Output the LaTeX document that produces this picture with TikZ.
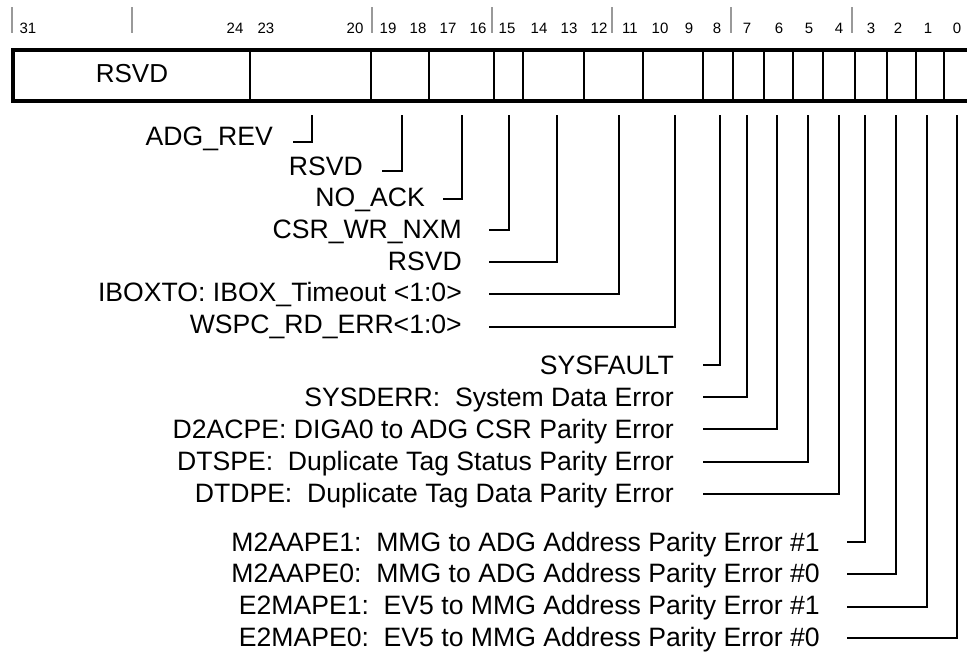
\documentclass[tikz,border=0pt]{standalone}
\usepackage{fontspec}
\setmainfont{Liberation Sans}
\begin{document}
\begin{tikzpicture}[x=1pt,y=-1pt,
  lbl/.style={anchor=base east, inner sep=0pt, font=\fontsize{26.6}{30}\selectfont},
  bitnum/.style={anchor=base, inner sep=0pt, font=\fontsize{15}{18}\selectfont},
  fieldtext/.style={anchor=center, inner sep=0pt, font=\fontsize{26}{30}\selectfont},
  leader/.style={line width=1.3pt, draw=black},
  bittick/.style={line width=1.3pt, draw=black!40},
  regbox/.style={line width=4pt, draw=black},
  divider/.style={line width=1.3pt, draw=black}]
\useasboundingbox (0,0) rectangle (967,651);
\clip (0,0) rectangle (967,651);

% group ticks
\foreach \x in {12,132,372,492,612,731,852}
  \draw[bittick] (\x,7) -- (\x,33);

% bit numbers
\foreach \n/\x in {31/28,24/235,23/266,20/355,19/388,18/418,17/448,16/478,
  15/507,14/539,13/569,12/599,11/630,10/660,9/689,8/717,7/747,6/779,5/809,4/839,
  3/871,2/898,1/928,0/957}
  \node[bitnum] (b\n) at (\x,33) {\n};

% register box
\foreach \x in {250,371,429,494,523,584,643,703,733,764,793,823,855,887,916,944}
  \draw[divider] (\x,49.5) -- (\x,100.5);
\draw[regbox] (12.5,49.5) rectangle (980,100.5);
\node[fieldtext] (rsvdhi) at (132,74) {RSVD};

% labels
\node[lbl] (adgrev) at (273,145) {ADG\_REV};
\node[lbl] (rsvda) at (363,175.5) {RSVD};
\node[lbl] (noack) at (425,206.5) {NO\_ACK};
\node[lbl] (csrwr) at (462,238) {CSR\_WR\_NXM};
\node[lbl] (rsvdb) at (462,270) {RSVD};
\node[lbl] (iboxto) at (462,301.5) {IBOXTO: IBOX\_Timeout <1:0>};
\node[lbl] (wspc) at (462,333) {WSPC\_RD\_ERR<1:0>};
\node[lbl] (sysfault) at (674,374) {SYSFAULT};
\node[lbl] (sysderr) at (674,406) {SYSDERR:\ \ System Data Error};
\node[lbl] (d2acpe) at (674,438) {D2ACPE: DIGA0 to ADG CSR Parity Error};
\node[lbl] (dtspe) at (674,470) {DTSPE:\ \ Duplicate Tag Status Parity Error};
\node[lbl] (dtdpe) at (674,502) {DTDPE:\ \ Duplicate Tag Data Parity Error};
\node[lbl] (m2aape1) at (820,551) {M2AAPE1:\ \ MMG to ADG Address Parity Error \#1};
\node[lbl] (m2aape0) at (820,582) {M2AAPE0:\ \ MMG to ADG Address Parity Error \#0};
\node[lbl] (e2mape1) at (820,614) {E2MAPE1:\ \ EV5 to MMG Address Parity Error \#1};
\node[lbl] (e2mape0) at (820,646) {E2MAPE0:\ \ EV5 to MMG Address Parity Error \#0};

% leader end points
\foreach \name/\sx/\sy/\tx in {
  adgrev/293/142/312, rsvda/382/171/402, noack/443/199/462, csrwr/489/230/509,
  rsvdb/489/262/557, iboxto/489/294/619, wspc/489/327/675,
  sysfault/703/365/720, sysderr/703/397/747, d2acpe/703/429/777,
  dtspe/703/462/808, dtdpe/703/494/839,
  m2aape1/847/542/865, m2aape0/847/574/896, e2mape1/847/607/927, e2mape0/847/638/957}{
  \coordinate (s-\name) at (\sx,\sy);
  \coordinate (t-\name) at (\tx,115);
  \draw[leader] (s-\name) -| (t-\name);
}
\end{tikzpicture}
\end{document}
